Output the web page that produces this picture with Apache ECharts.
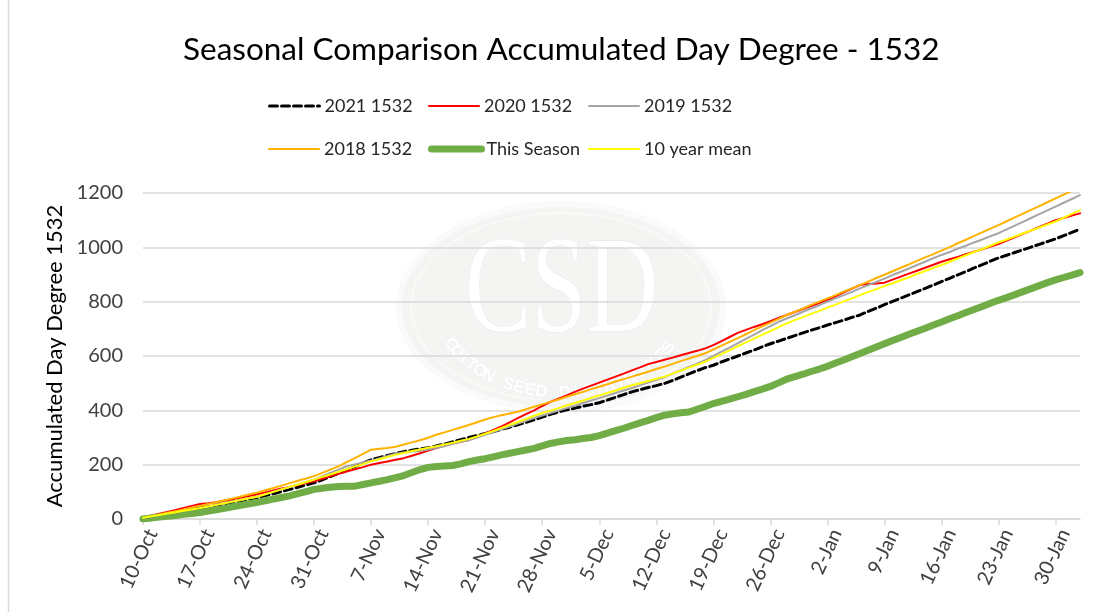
<!DOCTYPE html>
<html>
<head>
<meta charset="utf-8">
<script src="https://cdn.jsdelivr.net/npm/echarts@6/dist/echarts.min.js"></script>
<style>
  html, body { margin: 0; padding: 0; background: #ffffff; }
  #chart { width: 1107px; height: 612px; }
</style>
</head>
<body>
<div id="chart"></div>
<script>
// ---- Data ----
const startDate = [2021, 9, 10]; // 10-Oct
const dayCount = 116;            // 10-Oct .. 2-Feb
const monthNames = ['Jan','Feb','Mar','Apr','May','Jun','Jul','Aug','Sep','Oct','Nov','Dec'];

const seriesNames = ['2021 1532', '2020 1532', '2019 1532', '2018 1532', 'This Season', '10 year mean'];

const s2021 = [5,10,15,20,25,30,35,40, 45,51,56,62,67,73,79, 86,93,101,109,117,125,133,
  144,156,168,180,193,206,218, 226,234,241,248,253,258,262, 269,276,284,292,300,307,315,
  322,330,338,347,356,365,375, 385,394,402,408,415,421,428, 438,448,458,468,476,484,491,
  499,510,522,534,546,557,566, 578,589,600,611,622,634,645, 655,665,675,685,695,704,714,
  723,732,742,751,764,776,789, 801,813,825,837,849,861,874, 886,899,911,924,936,949,961,
  971,981,991,1001,1011,1021,1031, 1043,1055,1067];

const s2020 = [5,12,19,26,33,41,48,55, 58,62,67,73,79,85,91, 98,105,112,118,125,132,139,
  148,157,166,175,183,191,200, 206,212,218,224,233,242,252, 261,270,278,284,291,303,315,
  328,341,356,371,386,400,416, 431,443,455,468,480,491,502, 513,524,535,547,558,570,578,
  586,594,603,611,619,628,640, 655,670,685,696,707,717,728, 740,751,762,773,784,795,806,
  820,834,848,861,865,867,870, 881,892,903,914,925,936,947, 956,965,975,984,993,1003,1012,
  1025,1037,1050,1062,1075,1087,1100, 1108,1117,1125];

const s2019 = [5,10,15,20,25,30,35,40, 46,52,58,64,70,76,82, 91,100,109,118,127,136,145,
  158,170,182,194,201,208,215, 223,232,240,245,248,250,256, 262,268,277,284,290,300,310,
  320,330,340,351,361,372,381, 390,399,408,417,427,436,445, 454,464,473,482,492,502,512,
  522,535,547,560,572,585,600, 616,631,647,663,679,695,710, 726,738,750,763,775,787,800,
  812,824,836,849,861,873,885, 898,910,922,935,947,960,972, 983,995,1006,1018,1029,1041,1052,
  1066,1080,1094,1108,1122,1136,1150, 1164,1178,1192];

const s2018 = [5,11,17,23,29,35,42,48, 55,62,69,76,83,90,97, 106,114,123,132,141,149,158,
  170,182,194,209,224,240,255, 259,261,266,274,282,290,299, 310,319,328,337,346,356,366,
  375,382,388,395,404,413,422, 431,440,450,459,468,478,487, 496,506,515,524,533,542,552,
  561,571,581,591,600,610,624, 638,652,666,680,695,709,723, 737,751,763,775,788,800,812,
  824,837,849,861,874,887,899, 912,925,937,950,963,975,988, 1001,1015,1028,1042,1055,1069,1082,
  1096,1110,1124,1138,1152,1166,1180, 1194,1208,1222];

const sThisSeason = [0,4,7,10,13,17,20,24, 29,34,39,45,50,56,61, 67,73,79,85,93,101,109,
  113,117,120,121,121,127,133, 139,145,152,160,171,182,190, 193,195,197,203,211,217,222,
  229,236,242,248,254,260,269, 278,284,289,292,296,300,307, 316,325,334,344,354,363,373,
  382,387,391,394,404,414,425, 433,441,450,459,469,478,488, 501,515,524,533,543,552,562,
  574,585,597,609,621,633,645, 657,668,680,691,702,714,725, 737,748,760,771,782,794,805,
  815,826,837,848,859,870,880, 889,898,907];

const sMean = [5,10,15,20,25,30,35,40, 46,52,58,64,70,76,82, 91,100,109,118,127,136,145,
  155,164,174,183,193,202,212, 220,228,236,243,250,256,262, 268,274,281,288,295,304,314,
  324,335,346,357,368,380,390, 399,408,418,427,436,446,455, 464,473,483,492,500,508,516,
  524,535,546,557,568,579,593, 607,621,636,650,664,678,692, 706,720,732,743,755,766,778,
  789,801,812,824,835,846,857, 868,879,890,902,913,924,935, 947,959,971,983,994,1006,1018,
  1029,1040,1051,1062,1073,1084,1095, 1109,1123,1137];

const yTicks = [0, 200, 400, 600, 800, 1000, 1200];

// category labels "10-Oct", "11-Oct", ...
const categories = [];
for (let i = 0; i < dayCount; i++) {
  const d = new Date(startDate[0], startDate[1], startDate[2] + i);
  categories.push(d.getDate() + '-' + monthNames[d.getMonth()]);
}

// ---- Styles ----
const FONT = 'Lato, "Open Sans", sans-serif';
const seriesStyles = [
  { color: '#000000', width: 3, type: [8, 4] },
  { color: '#ff0000', width: 2, type: 'solid' },
  { color: '#a5a5a5', width: 2, type: 'solid' },
  { color: '#ffb300', width: 2, type: 'solid' },
  { color: '#70ad47', width: 7, type: 'solid' },
  { color: '#ffff00', width: 2, type: 'solid' }
];
const seriesData = [s2021, s2020, s2019, s2018, sThisSeason, sMean];

// legend positions (two rows of three columns)
const legendPos = [
  { left: 268, top: 97 }, { left: 428, top: 97 }, { left: 588, top: 97 },
  { left: 268, top: 140 }, { left: 428, top: 140 }, { left: 588, top: 140 }
];

// watermark arc text
const wmText = 'COTTON SEED DISTRIBUTORS';
const wmElements = [];
{
  const cx = 561, cy = 307, rx = 122, ry = 86;
  const t0 = 154 * Math.PI / 180, t1 = 28 * Math.PI / 180;
  for (let i = 0; i < wmText.length; i++) {
    const t = t0 + (t1 - t0) * i / (wmText.length - 1);
    const x = cx + rx * Math.cos(t), y = cy + ry * Math.sin(t);
    const dx = -rx * Math.sin(t), dy = ry * Math.cos(t);
    const ang = Math.atan2(dy, dx) + Math.PI;
    wmElements.push({
      type: 'text', z: -4, x: x, y: y, rotation: -ang,
      style: { text: wmText[i], font: 'bold 17px "Liberation Sans", sans-serif', fill: '#ffffff',
               stroke: '#ececec', lineWidth: 0.6, textAlign: 'center', textVerticalAlign: 'middle' }
    });
  }
}

const chart = echarts.init(document.getElementById('chart'), null, { renderer: 'canvas' });

const option = {
  backgroundColor: '#ffffff',
  animation: false,
  title: {
    text: 'Seasonal Comparison Accumulated Day Degree - 1532',
    left: 178,
    top: 29,
    textStyle: { fontFamily: FONT, fontSize: 31.5, fontWeight: 'normal', color: '#000000' }
  },
  legend: seriesNames.map((n, i) => ({
    data: [n],
    left: legendPos[i].left,
    top: legendPos[i].top,
    itemWidth: 50,
    itemHeight: 20,
    itemGap: 6,
    padding: 0,
    itemStyle: { opacity: 0 },
    lineStyle: { width: seriesStyles[i].width, cap: 'round' },
    textStyle: { fontFamily: FONT, fontSize: 18, color: '#262626' }
  })),
  grid: { left: 143, right: 27, top: 193, bottom: 93, containLabel: false },
  xAxis: {
    type: 'category',
    data: categories,
    boundaryGap: false,
    axisLine: { show: true, lineStyle: { color: '#d9d9d9', width: 1.5 } },
    axisTick: { show: true, interval: 6, length: 6, lineStyle: { color: '#d9d9d9', width: 1.5 } },
    axisLabel: { interval: 6, rotate: 65, margin: 7, verticalAlign: 'top', fontFamily: FONT, fontSize: 20, color: '#404040' },
    splitLine: { show: false }
  },
  yAxis: {
    type: 'value',
    min: yTicks[0],
    max: yTicks[yTicks.length - 1],
    interval: yTicks[1] - yTicks[0],
    name: 'Accumulated Day Degree 1532',
    nameLocation: 'middle',
    nameGap: 74,
    nameRotate: 90,
    nameTextStyle: { fontFamily: FONT, fontSize: 22, color: '#000000' },
    axisLine: { show: false },
    axisTick: { show: false },
    axisLabel: { margin: 20, fontFamily: FONT, fontSize: 20, color: '#404040', formatter: v => String(v) },
    splitLine: { show: true, lineStyle: { color: '#d9d9d9', width: 1.5 } }
  },
  graphic: {
    elements: [
      { type: 'line', z: -5, shape: { x1: 8.5, y1: 0, x2: 8.5, y2: 612 }, style: { stroke: '#d9d9d9', lineWidth: 1.5 } },
      { type: 'ellipse', z: -5, shape: { cx: 561, cy: 307, rx: 162, ry: 103 },
        style: { fill: '#f4f4f2', stroke: '#fafafa', lineWidth: 6 } },
      { type: 'ellipse', z: -5, shape: { cx: 561, cy: 307, rx: 150, ry: 94 },
        style: { fill: 'none', stroke: '#f9f9f8', lineWidth: 2 } },
      { type: 'text', z: -4, x: 465, y: 226, scaleX: 0.72,
        style: { text: 'CSD', font: '138px "Liberation Serif", serif', fill: '#ffffff', stroke: '#e9e9e9', lineWidth: 1.2 } }
    ].concat(wmElements)
  },
  series: seriesNames.map((n, i) => ({
    name: n,
    type: 'line',
    data: seriesData[i],
    symbol: 'none',
    smooth: false,
    clip: true,
    z: 2 + i,
    lineStyle: { color: seriesStyles[i].color, width: seriesStyles[i].width, type: seriesStyles[i].type, cap: 'round', join: 'round' },
    itemStyle: { color: seriesStyles[i].color }
  }))
};

chart.setOption(option);
</script>
</body>
</html>
